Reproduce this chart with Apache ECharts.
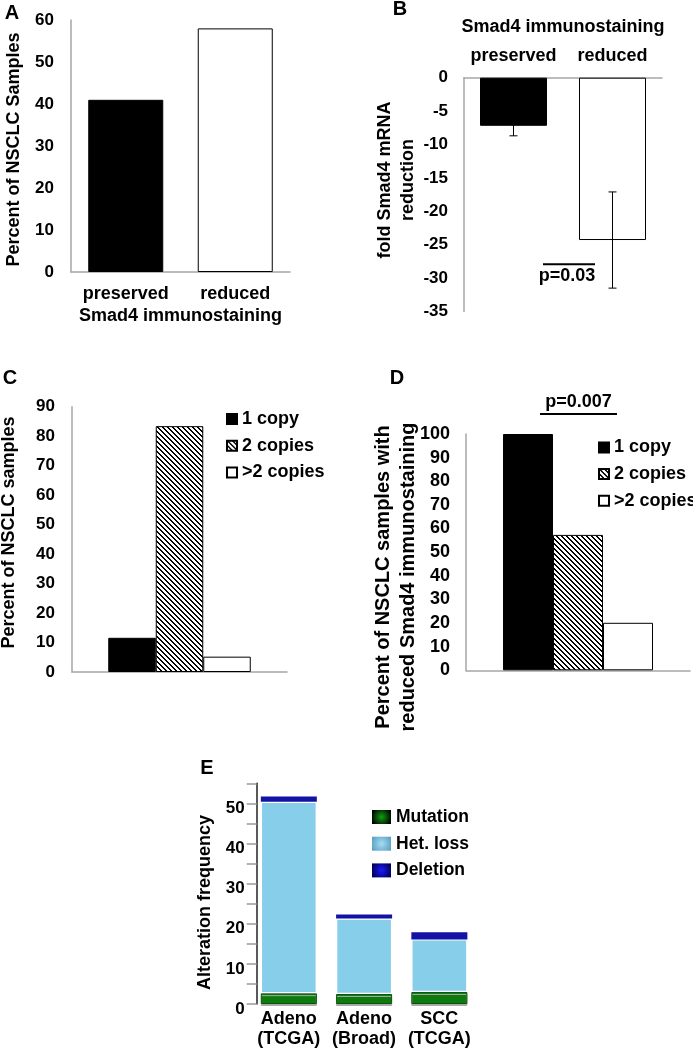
<!DOCTYPE html>
<html><head><meta charset="utf-8">
<script src="https://cdn.jsdelivr.net/npm/echarts@6/dist/echarts.min.js"></script>
<style>html,body{margin:0;padding:0;background:#fff}#c{width:693px;height:1049px}</style>
</head><body><div id="c"></div>
<script>
// ---------- data ----------
// Panel A
const catA = ['preserved', 'reduced'];
const valA = [41, 58];
const ticksA = [0, 10, 20, 30, 40, 50, 60];
// Panel B
const catB = ['preserved', 'reduced'];
const valB = [-7.2, -24.3];
const errB = [1.5, 7.2];
const ticksB = [-35, -30, -25, -20, -15, -10, -5, 0];
// Panels C / D
const copyNames = ['1 copy', '2 copies', '>2 copies'];
const valC = [11.6, 83.4, 5.2];
const valD = [100, 57.3, 20.1];
const ticksC = [0, 10, 20, 30, 40, 50, 60, 70, 80, 90];
const ticksD = [0, 10, 20, 30, 40, 50, 60, 70, 80, 90, 100];
// Panel E
const catE = ['Adeno\n(TCGA)', 'Adeno\n(Broad)', 'SCC\n(TCGA)'];
const seriesE = ['Mutation', 'Het. loss', 'Deletion'];
const mutE = [2.7, 2.5, 3.0];
const hetE = [47.7, 18.8, 13.1];
const delE = [1.3, 1.0, 1.8];
const ticksE = [0, 5, 10, 15, 20, 25, 30, 35, 40, 45, 50, 55];
const labelsE = [0, 10, 20, 30, 40, 50];

// ---------- styles ----------
const FONT = '"Liberation Sans", Arial, Helvetica, sans-serif';
const AX = '#a6a6a6';
const tick = {fontFamily: FONT, fontWeight: 'bold', fontSize: 17, color: '#000'};
const tickD = Object.assign({}, tick, {fontSize: 18});
const txt = {fontFamily: FONT, fontWeight: 'bold', fontSize: 18, color: '#000'};

function hatch() {
  const s = 5, c = document.createElement('canvas');
  c.width = s; c.height = s;
  const ctx = c.getContext('2d');
  const img = ctx.createImageData(s, s);
  for (let y = 0; y < s; y++) for (let x = 0; x < s; x++) {
    const k = (((x - y) % s) + s) % s;
    const v = k < 2 ? 0 : 255;
    const i = (y * s + x) * 4;
    img.data[i] = img.data[i + 1] = img.data[i + 2] = v; img.data[i + 3] = 255;
  }
  ctx.putImageData(img, 0, 0);
  return c;
}
const hatchFill = {image: hatch(), repeat: 'repeat'};
const copyStyles = [
  {color: '#000', borderColor: '#000', borderWidth: 1},
  {color: hatchFill, borderColor: '#000', borderWidth: 1},
  {color: '#fff', borderColor: '#000', borderWidth: 1}
];
function rad(c0, c1) {
  return {type: 'radial', x: 0.5, y: 0.5, r: 0.75, colorStops: [{offset: 0, color: c0}, {offset: 1, color: c1}]};
}
const colE = ['#0c7a0c', '#87ceeb', '#1212a6'];
const legE = [rad('#10a010', '#000'), rad('#a8dcf2', '#5aa2c4'), rad('#1a1aff', '#000050')];

const range = t => ({min: t[0], max: t[t.length - 1], interval: t[1] - t[0]});

const chart = echarts.init(document.getElementById('c'), null, {renderer: 'canvas'});

const grids = [
  {left: 71, top: 20, width: 219, height: 252},
  {left: 464, top: 77.7, width: 198, height: 233.8},
  {left: 72, top: 406.7, width: 215, height: 265.3},
  {left: 466, top: 434, width: 224, height: 236.3},
  {left: 251.2, top: 783.3, width: 225.8, height: 221.7}
];

const baseY = {
  type: 'value', splitLine: {show: false}, axisTick: {show: false},
  axisLine: {show: true, lineStyle: {color: AX, width: 1.5}},
  axisLabel: Object.assign({margin: 17}, tick)
};

const option = {
  backgroundColor: '#fff',
  animation: false,
  grid: grids,
  xAxis: [
    {gridIndex: 0, type: 'category', data: catA, axisTick: {show: false},
      axisLine: {lineStyle: {color: AX, width: 1.5}},
      axisLabel: Object.assign({margin: 13, interval: 0}, txt),
      name: 'Smad4 immunostaining', nameLocation: 'middle', nameGap: 35, nameTextStyle: txt},
    {gridIndex: 1, type: 'category', data: catB, position: 'top', axisTick: {show: false},
      axisLine: {lineStyle: {color: AX, width: 1.5}},
      axisLabel: Object.assign({margin: 13, interval: 0}, txt),
      name: 'Smad4 immunostaining', nameLocation: 'middle', nameGap: 42, nameTextStyle: txt},
    {gridIndex: 2, type: 'category', data: [''], axisTick: {show: false}, axisLabel: {show: false},
      axisLine: {lineStyle: {color: AX, width: 1.5}}},
    {gridIndex: 3, type: 'category', data: [''], axisTick: {show: false}, axisLabel: {show: false},
      axisLine: {lineStyle: {color: AX, width: 1.5}}},
    {gridIndex: 4, type: 'category', data: catE, axisTick: {show: false}, axisLine: {show: false},
      axisLabel: Object.assign({margin: 5, lineHeight: 20, interval: 0}, txt)}
  ],
  yAxis: [
    Object.assign({gridIndex: 0}, baseY, range(ticksA)),
    Object.assign({gridIndex: 1}, baseY, range(ticksB), {axisLabel: Object.assign({margin: 16}, tick)}),
    Object.assign({gridIndex: 2}, baseY, range(ticksC)),
    Object.assign({gridIndex: 3}, baseY, range(ticksD), {axisLabel: Object.assign({margin: 16}, tickD)}),
    Object.assign({gridIndex: 4, offset: -5.5}, baseY, range(ticksE), {
      axisLine: {show: true, lineStyle: {color: '#222', width: 1.5}},
      axisTick: {show: true, inside: false, length: 10, lineStyle: {color: '#999', width: 1.5}},
      axisLabel: Object.assign({margin: 12, verticalAlign: 'top', lineHeight: 10,
        formatter: v => labelsE.indexOf(v) >= 0 ? String(v) : ''}, tick)
    })
  ],
  legend: [
    {data: copyNames, orient: 'vertical', left: 226, top: 410, padding: 0, itemWidth: 10, itemHeight: 10,
      itemGap: 8.7, textStyle: txt, selectedMode: false, icon: 'rect'},
    {data: copyNames, orient: 'vertical', left: 598, top: 438.4, padding: 0, itemWidth: 10, itemHeight: 10,
      itemGap: 8.7, textStyle: txt, selectedMode: false, icon: 'rect'},
    {data: seriesE.map((n, i) => ({name: n, itemStyle: {color: legE[i], borderWidth: 0}})),
      orient: 'vertical', left: 372, top: 808, padding: 0, itemWidth: 19, itemHeight: 14,
      itemGap: 8.7, textStyle: Object.assign({}, txt, {fontSize: 17.5}), selectedMode: false, icon: 'rect'}
  ],
  series: [
    {type: 'bar', xAxisIndex: 0, yAxisIndex: 0, barWidth: 75,
      data: valA.map((v, i) => ({value: v, itemStyle: i === 0 ? copyStyles[0] : copyStyles[2]}))},
    {type: 'bar', xAxisIndex: 1, yAxisIndex: 1, barWidth: 67,
      data: valB.map((v, i) => ({value: v, itemStyle: i === 0 ? copyStyles[0] : copyStyles[2]}))},
    {type: 'custom', xAxisIndex: 1, yAxisIndex: 1, z: 5,
      data: valB.map((v, i) => [i, v - errB[i], v + errB[i]]),
      encode: {x: 0, y: [1, 2]},
      renderItem: function (params, api) {
        const x = api.value(0), lo = api.value(1), hi = api.value(2);
        const a = api.coord([x, hi]), b = api.coord([x, lo]), w = 4;
        const st = {stroke: '#000', lineWidth: 1};
        return {type: 'group', children: [
          {type: 'line', shape: {x1: a[0], y1: a[1], x2: b[0], y2: b[1]}, style: st},
          {type: 'line', shape: {x1: a[0] - w, y1: a[1], x2: a[0] + w, y2: a[1]}, style: st},
          {type: 'line', shape: {x1: b[0] - w, y1: b[1], x2: b[0] + w, y2: b[1]}, style: st}
        ]};
      }},
    ...copyNames.map((n, i) => ({name: n, type: 'bar', xAxisIndex: 2, yAxisIndex: 2, barWidth: 47.5,
      barGap: '0%', data: [valC[i]], itemStyle: copyStyles[i]})),
    ...copyNames.map((n, i) => ({name: n, type: 'bar', xAxisIndex: 3, yAxisIndex: 3, barWidth: 50,
      barGap: '0%', data: [valD[i]], itemStyle: copyStyles[i]})),
    {name: seriesE[0], type: 'bar', stack: 'e', xAxisIndex: 4, yAxisIndex: 4, barWidth: 56, data: mutE,
      itemStyle: {color: colE[0], borderColor: '#075407', borderWidth: 1,
        shadowColor: '#aaa', shadowOffsetY: 2, shadowBlur: 0}},
    {name: seriesE[1], type: 'bar', stack: 'e', xAxisIndex: 4, yAxisIndex: 4, barWidth: 56, data: hetE,
      itemStyle: {color: colE[1], borderColor: '#fff', borderWidth: 1.2}},
    {name: seriesE[2], type: 'bar', stack: 'e', xAxisIndex: 4, yAxisIndex: 4, barWidth: 56, data: delE,
      itemStyle: {color: colE[2]}}
  ],
  graphic: [
    // panel letters
    {type: 'text', x: 12, y: 13, style: {text: 'A', font: 'bold 20px ' + FONT, fill: '#000', align: 'center', verticalAlign: 'middle'}},
    {type: 'text', x: 400, y: 9, style: {text: 'B', font: 'bold 20px ' + FONT, fill: '#000', align: 'center', verticalAlign: 'middle'}},
    {type: 'text', x: 10, y: 378, style: {text: 'C', font: 'bold 20px ' + FONT, fill: '#000', align: 'center', verticalAlign: 'middle'}},
    {type: 'text', x: 397, y: 378, style: {text: 'D', font: 'bold 20px ' + FONT, fill: '#000', align: 'center', verticalAlign: 'middle'}},
    {type: 'text', x: 207, y: 768, style: {text: 'E', font: 'bold 20px ' + FONT, fill: '#000', align: 'center', verticalAlign: 'middle'}},
    // y axis names
    {type: 'text', x: 14, y: 149.5, rotation: Math.PI / 2, style: {text: 'Percent of NSCLC Samples', font: 'bold 18px ' + FONT, fill: '#000', align: 'center', verticalAlign: 'middle'}},
    {type: 'text', x: 397, y: 180, rotation: Math.PI / 2, style: {text: 'fold Smad4 mRNA\nreduction', font: 'bold 18px ' + FONT, lineHeight: 23, fill: '#000', align: 'center', verticalAlign: 'middle'}},
    {type: 'text', x: 9, y: 532.5, rotation: Math.PI / 2, style: {text: 'Percent of NSCLC samples', font: 'bold 18px ' + FONT, fill: '#000', align: 'center', verticalAlign: 'middle'}},
    {type: 'text', x: 396, y: 577, rotation: Math.PI / 2, style: {text: 'Percent of NSCLC samples with\nreduced Smad4 immunostaining', font: 'bold 20px ' + FONT, lineHeight: 24.5, fill: '#000', align: 'center', verticalAlign: 'middle'}},
    {type: 'text', x: 205.5, y: 902.5, rotation: Math.PI / 2, style: {text: 'Alteration frequency', font: 'bold 18px ' + FONT, fill: '#000', align: 'center', verticalAlign: 'middle'}},
    // p-values
    {type: 'line', shape: {x1: 543, y1: 264.3, x2: 595, y2: 264.3}, style: {stroke: '#000', lineWidth: 2}},
    {type: 'text', x: 567, y: 276, style: {text: 'p=0.03', font: 'bold 18px ' + FONT, fill: '#000', align: 'center', verticalAlign: 'middle'}},
    {type: 'line', shape: {x1: 540, y1: 414, x2: 617, y2: 414}, style: {stroke: '#000', lineWidth: 2}},
    {type: 'text', x: 578.5, y: 402, style: {text: 'p=0.007', font: 'bold 18px ' + FONT, fill: '#000', align: 'center', verticalAlign: 'middle'}}
  ]
};
chart.setOption(option);
</script>
</body></html>
